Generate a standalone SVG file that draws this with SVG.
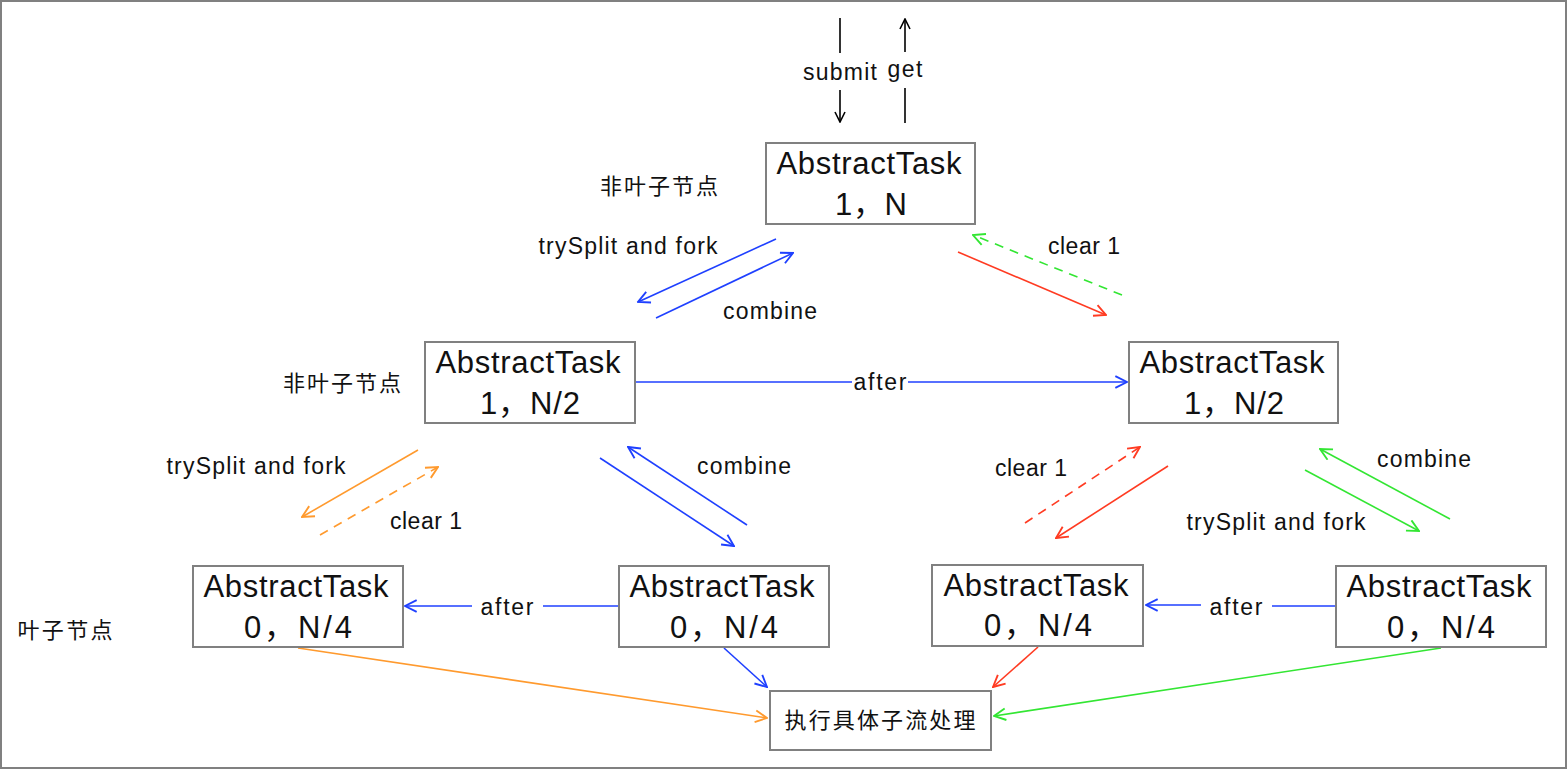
<svg xmlns="http://www.w3.org/2000/svg" width="1568" height="770" viewBox="0 0 1568 770">
<style>
.box{fill:#fff;stroke:#808080;stroke-width:2}
.t{font-family:"Liberation Sans","Noto Sans CJK SC",sans-serif;fill:#111;text-anchor:middle;dominant-baseline:central}
.big{font-size:31px}
.lbl{font-size:23px}
.cn{font-size:22px}
.k{stroke:#000;stroke-width:1.6;fill:none}
.b{stroke:#1f40ff;stroke-width:1.6;fill:none}
.r{stroke:#ff3b22;stroke-width:1.6;fill:none}
.g{stroke:#33e633;stroke-width:1.6;fill:none}
.o{stroke:#ff9a2e;stroke-width:1.6;fill:none}
.d{stroke-dasharray:9 7}
</style>
<defs>
<marker id="mk" viewBox="0 0 12 12" refX="11" refY="6" markerWidth="12" markerHeight="12" markerUnits="userSpaceOnUse" orient="auto"><path d="M1,1 L11,6 L1,11" fill="none" stroke="#000" stroke-width="1.6"/></marker>
<marker id="mb" viewBox="0 0 12 12" refX="11" refY="6" markerWidth="14" markerHeight="14" markerUnits="userSpaceOnUse" orient="auto"><path d="M1,1 L11,6 L1,11" fill="none" stroke="#1f40ff" stroke-width="1.6"/></marker>
<marker id="mr" viewBox="0 0 12 12" refX="11" refY="6" markerWidth="14" markerHeight="14" markerUnits="userSpaceOnUse" orient="auto"><path d="M1,1 L11,6 L1,11" fill="none" stroke="#ff3b22" stroke-width="1.6"/></marker>
<marker id="mg" viewBox="0 0 12 12" refX="11" refY="6" markerWidth="14" markerHeight="14" markerUnits="userSpaceOnUse" orient="auto"><path d="M1,1 L11,6 L1,11" fill="none" stroke="#33e633" stroke-width="1.6"/></marker>
<marker id="mo" viewBox="0 0 12 12" refX="11" refY="6" markerWidth="14" markerHeight="14" markerUnits="userSpaceOnUse" orient="auto"><path d="M1,1 L11,6 L1,11" fill="none" stroke="#ff9a2e" stroke-width="1.6"/></marker>
</defs>
<rect x="1" y="1" width="1565" height="767" fill="#fff" stroke="#808080" stroke-width="2"/>

<g id="connectors">
<line class="k" x1="840" y1="18" x2="840" y2="53"/>
<line class="k" x1="840" y1="90" x2="840" y2="122" marker-end="url(#mk)"/>
<line class="k" x1="905" y1="123" x2="905" y2="88"/>
<line class="k" x1="905" y1="52" x2="905" y2="19" marker-end="url(#mk)"/>
<text class="t lbl" x="840" y="72" textLength="74">submit</text>
<text class="t lbl" x="905" y="69" textLength="35">get</text>

<line class="b" x1="776" y1="239" x2="638" y2="302" marker-end="url(#mb)"/>
<line class="b" x1="656" y1="318" x2="793" y2="253" marker-end="url(#mb)"/>
<text class="t lbl" x="628" y="246" textLength="179">trySplit and fork</text>
<text class="t lbl" x="770" y="311" textLength="94">combine</text>

<line class="r" x1="958" y1="252" x2="1106" y2="315" marker-end="url(#mr)"/>
<line class="g d" x1="1122" y1="295" x2="973" y2="235" marker-end="url(#mg)"/>
<text class="t lbl" x="1084" y="246" textLength="72">clear 1</text>

<line class="b" x1="636" y1="382" x2="1127" y2="382" marker-end="url(#mb)"/>
<rect x="852" y="370" width="56" height="24" fill="#fff"/>
<text class="t lbl" x="880" y="382" textLength="53">after</text>

<line class="o" x1="418" y1="450" x2="302" y2="517" marker-end="url(#mo)"/>
<line class="o d" x1="320" y1="535" x2="438" y2="467" marker-end="url(#mo)"/>
<text class="t lbl" x="256" y="466" textLength="179">trySplit and fork</text>
<text class="t lbl" x="426" y="521" textLength="72">clear 1</text>

<line class="b" x1="600" y1="458" x2="734" y2="546" marker-end="url(#mb)"/>
<line class="b" x1="747" y1="525" x2="628" y2="447" marker-end="url(#mb)"/>
<text class="t lbl" x="744" y="466" textLength="94">combine</text>

<line class="r d" x1="1025" y1="523" x2="1140" y2="447" marker-end="url(#mr)"/>
<line class="r" x1="1168" y1="466" x2="1056" y2="538" marker-end="url(#mr)"/>
<text class="t lbl" x="1031" y="468" textLength="72">clear 1</text>

<line class="g" x1="1305" y1="470" x2="1419" y2="531" marker-end="url(#mg)"/>
<line class="g" x1="1450" y1="519" x2="1320" y2="449" marker-end="url(#mg)"/>
<text class="t lbl" x="1276" y="522" textLength="179">trySplit and fork</text>
<text class="t lbl" x="1424" y="459" textLength="94">combine</text>

<line class="b" x1="619" y1="606" x2="543" y2="606"/>
<line class="b" x1="472" y1="606" x2="405" y2="606" marker-end="url(#mb)"/>
<text class="t lbl" x="507" y="607" textLength="53">after</text>
<line class="b" x1="1336" y1="606" x2="1272" y2="606"/>
<line class="b" x1="1201" y1="605" x2="1146" y2="605" marker-end="url(#mb)"/>
<text class="t lbl" x="1236" y="607" textLength="53">after</text>

<line class="o" x1="298" y1="648" x2="767" y2="718" marker-end="url(#mo)"/>
<line class="b" x1="724" y1="648" x2="767" y2="687" marker-end="url(#mb)"/>
<line class="r" x1="1038" y1="647" x2="993" y2="687" marker-end="url(#mr)"/>
<line class="g" x1="1441" y1="648" x2="994" y2="716" marker-end="url(#mg)"/>
</g>

<g id="label-nonleaf-1"><text class="t cn" x="659" y="186" textLength="118">非叶子节点</text></g>
<g id="label-nonleaf-2"><text class="t cn" x="342" y="383" textLength="118">非叶子节点</text></g>
<g id="label-leaf"><text class="t cn" x="65" y="630" textLength="95">叶子节点</text></g>

<g id="node-root"><rect class="box" x="766" y="143" width="209" height="81"/><text class="t big" x="869" y="163" textLength="185">AbstractTask</text><text class="t big" x="871" y="204" textLength="72">1，N</text></g>
<g id="node-mid-left"><rect class="box" x="425" y="342" width="210" height="81"/><text class="t big" x="528" y="362" textLength="185">AbstractTask</text><text class="t big" x="530" y="403" textLength="100">1，N/2</text></g>
<g id="node-mid-right"><rect class="box" x="1129" y="342" width="209" height="81"/><text class="t big" x="1232" y="362" textLength="185">AbstractTask</text><text class="t big" x="1234" y="403" textLength="100">1，N/2</text></g>
<g id="node-leaf-1"><rect class="box" x="193" y="566" width="210" height="81"/><text class="t big" x="296" y="586" textLength="185">AbstractTask</text><text class="t big" x="298" y="627" textLength="108">0，N/4</text></g>
<g id="node-leaf-2"><rect class="box" x="619" y="566" width="210" height="81"/><text class="t big" x="722" y="586" textLength="185">AbstractTask</text><text class="t big" x="724" y="627" textLength="108">0，N/4</text></g>
<g id="node-leaf-3"><rect class="box" x="932" y="565" width="211" height="81"/><text class="t big" x="1036" y="585" textLength="185">AbstractTask</text><text class="t big" x="1038" y="625" textLength="108">0，N/4</text></g>
<g id="node-leaf-4"><rect class="box" x="1336" y="566" width="210" height="81"/><text class="t big" x="1439" y="586" textLength="185">AbstractTask</text><text class="t big" x="1441" y="627" textLength="108">0，N/4</text></g>
<g id="node-exec"><rect class="box" x="770" y="691" width="221" height="59"/><text class="t cn" x="880" y="720" textLength="191">执行具体子流处理</text></g>
</svg>
